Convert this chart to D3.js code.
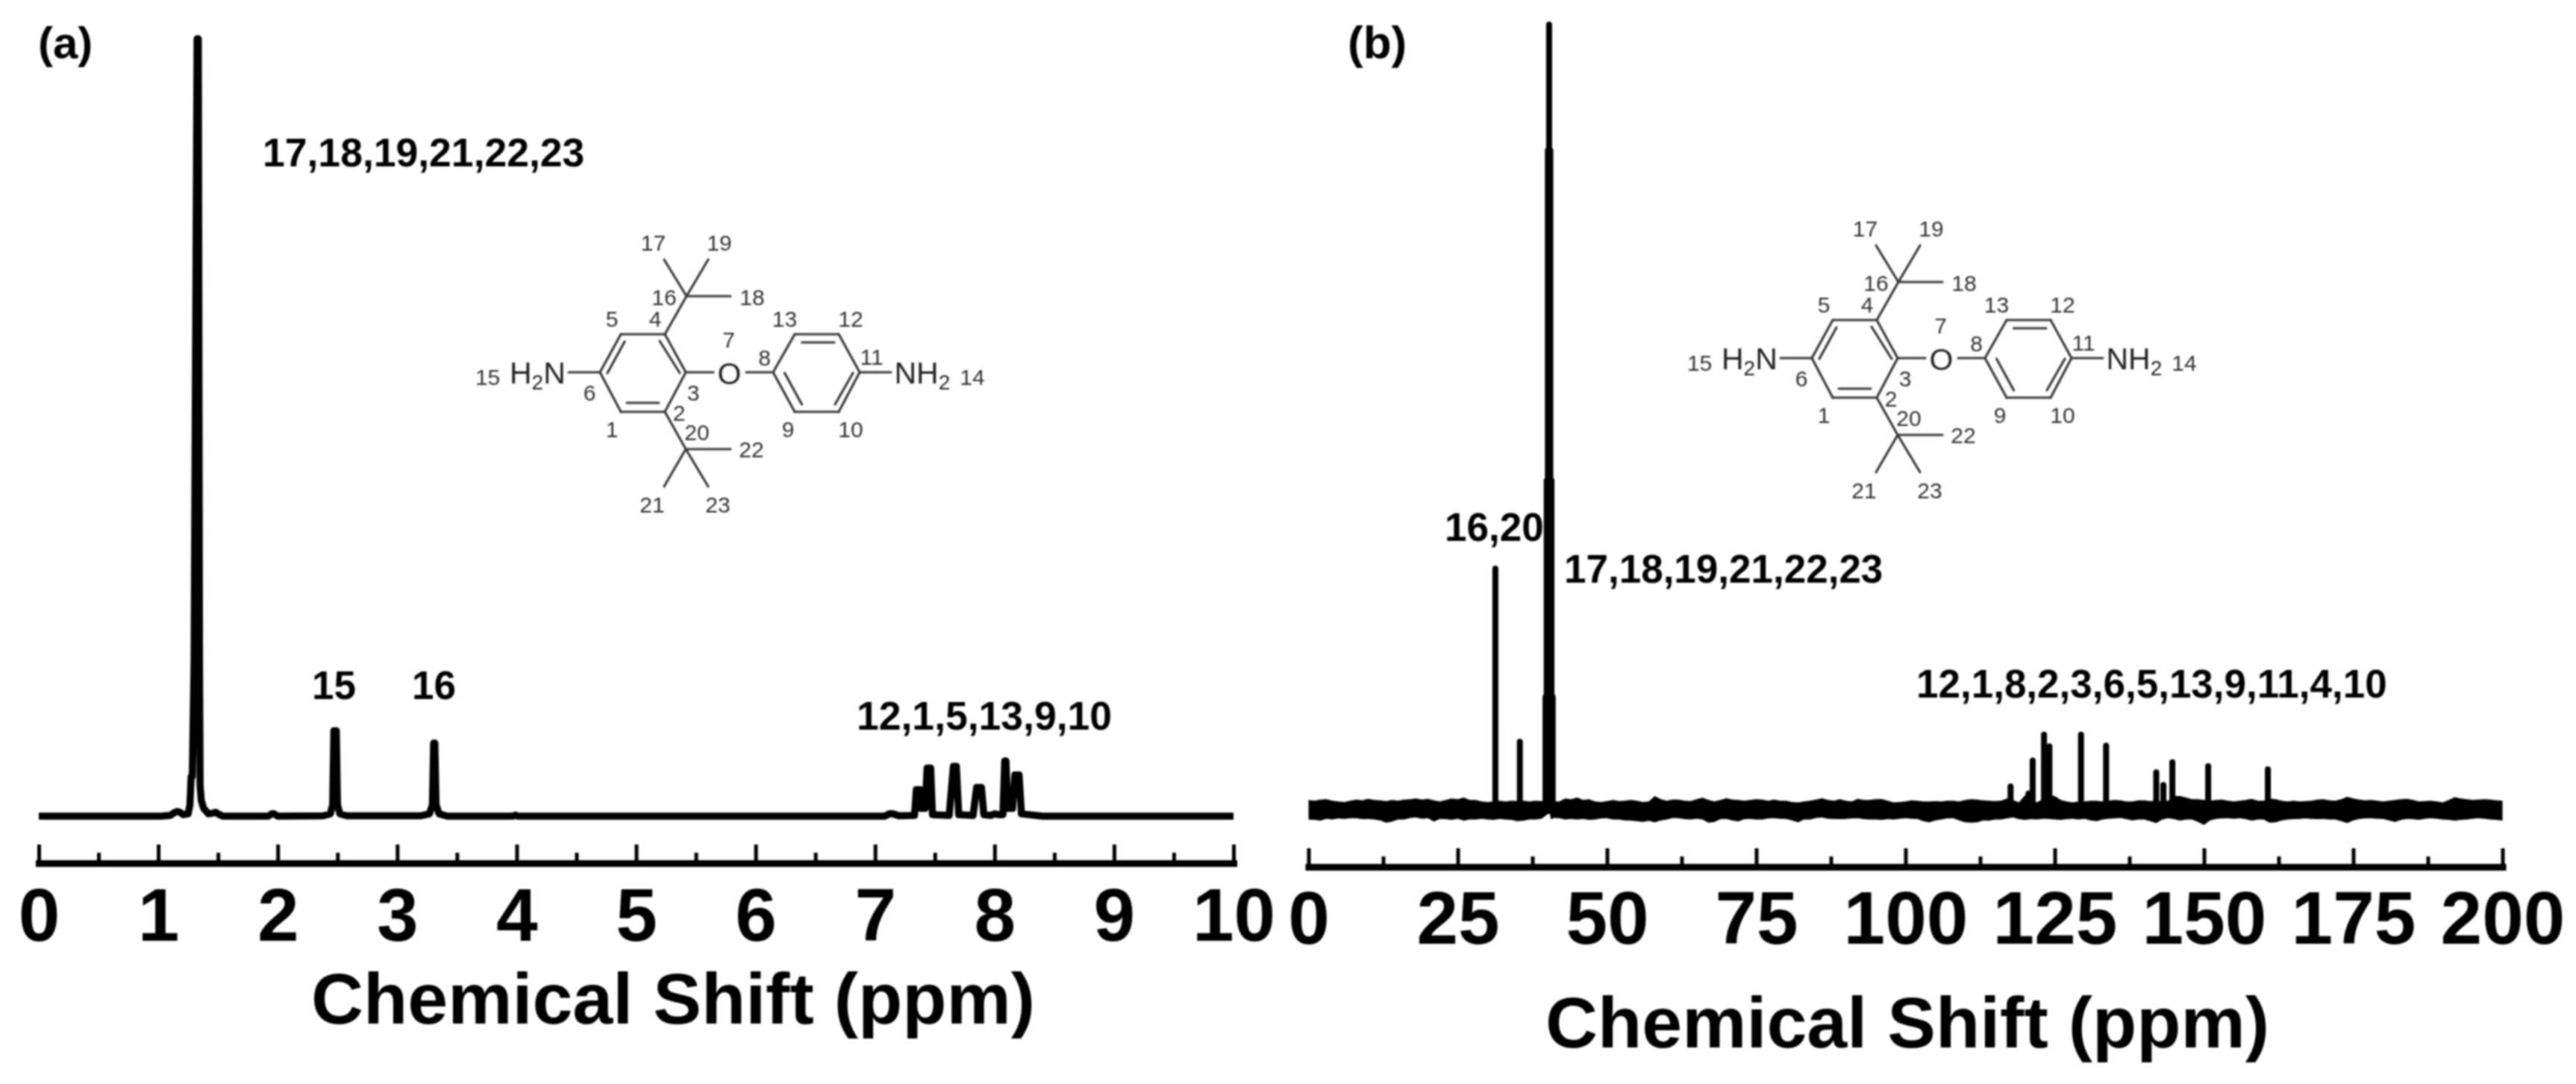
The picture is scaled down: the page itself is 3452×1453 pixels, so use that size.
<!DOCTYPE html>
<html>
<head>
<meta charset="utf-8">
<script src="https://cdn.jsdelivr.net/npm/d3@7"></script>
<style>
html,body{margin:0;padding:0;background:#fff}
svg{display:block}
text{font-family:"Liberation Sans",Arial,sans-serif}
</style>
</head>
<body>
<script>
// ---------- values ----------
const protonTicksMajor = [0,1,2,3,4,5,6,7,8,9,10];
const protonTicksMinor = [0.5,1.5,2.5,3.5,4.5,5.5,6.5,7.5,8.5,9.5];
const carbonTicksMajor = [0,25,50,75,100,125,150,175,200];
const carbonTicksMinor = [12.5,37.5,62.5,87.5,112.5,137.5,162.5,187.5];

// 1H trace: [ppm, relative intensity]
const protonTrace = [
 [0,0],[1.02,0],[1.1,0.1],[1.14,0.5],[1.16,0.6],[1.18,0.5],[1.21,0.2],[1.25,0.3],[1.265,1.5],[1.275,5.1],[1.285,5.1],
 [1.3,20],[1.325,100],[1.335,100],[1.345,20],[1.35,4],[1.36,2],[1.38,1],[1.42,0.3],[1.46,0.4],[1.48,0.5],[1.5,0.3],[1.54,0],
 [1.92,0],[1.95,0.3],[1.97,0.3],[2.0,0],[2.38,0.05],[2.44,0.3],[2.46,1.5],[2.47,11],[2.49,11],[2.5,1.5],[2.52,0.3],[2.58,0.05],
 [3.2,0.05],[3.27,0.3],[3.295,1.5],[3.305,9.4],[3.315,9.4],[3.325,1.5],[3.35,0.3],[3.42,0],
 [3.97,0],[3.99,0.15],[4.01,0],[7.08,0],[7.12,0.3],[7.15,0.3],[7.2,0.05],[7.33,0.1],[7.345,3.4],[7.375,3.4],[7.385,1],[7.4,1],[7.42,1],
 [7.435,6.2],[7.465,6.2],[7.48,0.2],[7.62,0.1],[7.655,6.4],[7.68,6.4],[7.7,0.2],[7.82,0.1],[7.85,3.7],[7.89,3.7],[7.91,0.2],
 [7.97,0.1],[8.0,0.3],[8.03,0.2],[8.07,0.2],[8.085,7.1],[8.095,7.1],[8.11,1],[8.15,1],[8.17,5.3],[8.205,5.3],[8.225,0.3],[8.4,0],[10,0]
];

// 13C sharp lines: [ppm, relative intensity]
const carbonLines = [
 [31.3,30.8],[35.4,8.8],[39.7,14.5],[39.9,42],[40.1,84],[40.3,100],[40.5,84],[40.7,42],[40.9,14.5],
 [117.6,3.1],[120.6,2.2],[121.3,6.4],[123.2,9.7],[124.1,8.2],[129.4,9.7],[133.6,8.3],
 [142,4.9],[143.2,3.3],[144.7,6.2],[150.7,5.7],[160.7,5.3]
];

// 13C noise band envelope, read every 1 ppm from 0 to 200
const noiseUpper = [
 1.4,1.3,1.45,1.5,1.3,1.2,1.14,1.3,1.45,1.35,1.55,1.4,1.36,1.25,1.39,1.3,1.45,1.5,1.6,1.45,
 1.55,1.35,1.2,1.4,1.6,1.5,1.7,1.4,1.39,1.2,1.14,1.2,1.3,1.2,1.3,1.25,1.3,1.2,1.3,1.25,
 1.3,1.2,1.2,1.6,1.5,1.7,1.39,1.5,1.2,1.15,1.26,1.4,1.26,1.3,1.39,1.3,1.14,1.2,1.9,1.5,
 1.3,1.45,1.45,1.3,1.26,1.5,1.68,1.4,1.2,1.4,1.61,1.45,1.39,1.3,1.39,1.5,1.45,1.3,1.45,1.3,
 1.3,1.15,1.08,1.2,1.3,1.45,1.61,1.4,1.3,1.5,1.3,1.2,1.55,1.4,1.39,1.5,1.52,1.3,1.08,1.15,
 1.2,1.35,1.3,1.2,1.2,1.25,1.2,1.3,1.3,1.2,1.39,1.5,1.45,1.35,1.3,1.25,1.3,1.6,1.4,1.1,
 2.0,1.6,1.1,1.5,2.0,1.9,1.4,1.2,1.1,1.2,1.2,1.3,1.3,1.2,1.3,1.4,1.35,1.2,1.2,1.35,
 1.35,1.25,1.3,1.2,1.3,1.9,1.9,1.7,1.5,1.5,1.4,1.3,1.39,1.45,1.3,1.2,1.3,1.4,1.55,1.3,
 1.3,1.6,1.5,1.3,1.2,1.3,1.2,1.25,1.3,1.45,1.5,1.35,1.3,1.5,1.8,1.6,1.45,1.35,1.4,1.3,
 1.2,1.3,1.4,1.5,1.55,1.4,1.2,1.25,1.3,1.2,1.1,1.4,1.75,1.6,1.5,1.4,1.45,1.5,1.45,1.35,1.3
];
const noiseLower = [
 -1.08,-1.15,-1.23,-1.0,-1.08,-0.95,-1.01,-0.92,-0.92,-1.05,-1.01,-1.1,-1.2,-1.5,-1.35,-1.1,-1.08,-0.9,-0.82,-1.0,
 -0.92,-1.35,-1.01,-1.05,-1.14,-1.0,-1.23,-1.1,-1.08,-1.0,-1.08,-1.15,-1.01,-1.1,-1.14,-1.3,-1.23,-1.1,-1.08,-1.0,
 -0.5,-0.9,-0.92,-1.1,-1.01,-1.1,-1.01,-1.15,-1.08,-0.95,-0.92,-1.1,-1.08,-1.2,-1.23,-1.3,-1.39,-1.25,-1.45,-1.2,
 -1.08,-0.9,-0.92,-1.05,-1.08,-1.0,-1.08,-1.5,-1.39,-1.05,-1.01,-1.2,-1.33,-1.05,-1.01,-1.1,-1.08,-0.95,-0.92,-1.0,
 -1.01,-1.2,-1.45,-1.1,-1.08,-0.9,-0.82,-1.0,-1.01,-1.05,-1.01,-0.95,-0.92,-1.05,-1.08,-1.1,-1.14,-1.05,-1.08,-1.0,
 -0.92,-1.0,-1.01,-1.3,-1.45,-1.2,-1.08,-0.95,-0.92,-1.2,-1.45,-1.5,-1.45,-1.2,-1.23,-1.1,-1.08,-0.95,-0.82,-1.05,
 -1.14,-1.05,-1.08,-1.0,-1.01,-1.1,-1.14,-1.05,-1.0,-1.1,-1.0,-1.2,-1.3,-1.1,-1.0,-0.95,-0.9,-1.05,-1.2,-1.1,
 -1.08,-1.3,-1.55,-1.1,-0.92,-1.05,-1.23,-1.1,-1.08,-1.4,-1.77,-1.2,-1.01,-0.95,-0.92,-1.0,-0.92,-1.05,-1.23,-1.1,
 -1.1,-1.5,-1.45,-1.2,-1.08,-1.05,-1.01,-0.95,-1.01,-1.05,-1.01,-1.1,-1.08,-1.3,-1.55,-1.2,-1.01,-0.95,-0.92,-1.0,
 -1.01,-1.2,-1.39,-1.15,-1.01,-1.05,-1.14,-1.0,-0.92,-1.0,-1.08,-1.15,-1.23,-1.15,-1.08,-1.0,-0.92,-1.0,-1.08,-1.15,-1.23
];
const noiseStep = 1;
const solventNotch = [[39.2,-0.9],[39.9,-0.5],[40.2,0.6],[40.6,-1.1]];

// peak labels
const protonLabels = ["17,18,19,21,22,23","15","16","12,1,5,13,9,10"];
const carbonLabels = ["16,20","17,18,19,21,22,23","12,1,8,2,3,6,5,13,9,11,4,10"];
const axisTitle = "Chemical Shift (ppm)";

// ---------- structure drawing (not data): offsets from the ring carbon next to O ----------
const molBonds = [
 [-115,0,-87,-51],[-87,-51,-28,-51],[-28,-51,0,0],[0,0,-28,53],[-28,53,-87,53],[-87,53,-115,0],
 [117,0,146,-51],[146,-51,205,-51],[205,-51,233,0],[233,0,205,53],[205,53,146,53],[146,53,117,0],
 [-115,0,-157,0],[0,0,37,0],[81,0,117,0],[233,0,275,0],
 [-28,-51,1,-102],[1,-102,-29,-151],[1,-102,30,-151],[1,-102,60,-102],
 [-28,53,0,103],[0,103,-29,153],[0,103,30,153],[0,103,60,103],
 [-82,-41,-105,1],[-35,-42,-8,1],[-79,41,-36,41],
 [155.5,-40,199,-40],[132.5,1,155.5,43],[224,1,200,43]
];
const molNumbers = [
 ["17",-43.5,-174],["19",45,-174],["16",-29,-101],["18",89,-101],["5",-99,-72],["4",-41,-72],
 ["13",132.5,-72],["12",221,-72],["7",57.5,-44],["8",105.5,-20],["11",249,-21],["15",-265.4,6],
 ["14",384,6],["6",-129,27],["3",10,27],["2",-9,54],["1",-99,76],["9",137,76],["10",221,76],
 ["20",15,80],["22",88,103],["21",-45,177],["23",43,177]
];

// ---------- drawing ----------
const W = 3452, H = 1453;
const svg = d3.select("body").append("svg").attr("width",W).attr("height",H).attr("viewBox",`0 0 ${W} ${H}`);
svg.append("rect").attr("width",W).attr("height",H).attr("fill","#fff");
const defs = svg.append("defs");
defs.append("filter").attr("id","soft").attr("x","-2%").attr("y","-2%").attr("width","104%").attr("height","104%")
  .append("feGaussianBlur").attr("stdDeviation",0.9);
const root = svg.append("g").attr("filter","url(#soft)");

function drawAxis(x, yLine, yLabel, yTitle, major, minor, titleX){
  const g = root.append("g");
  const tickG = g.append("g").attr("transform",`translate(0,${yLine})`)
    .call(d3.axisTop(x).tickValues(major).tickSize(25).tickSizeOuter(0).tickFormat(""));
  tickG.select(".domain").attr("stroke","#000").attr("stroke-width",9).attr("stroke-linecap","square");
  tickG.selectAll(".tick line").attr("stroke","#000").attr("stroke-width",5);
  const minorG = g.append("g").attr("transform",`translate(0,${yLine})`)
    .call(d3.axisTop(x).tickValues(minor).tickSize(14).tickSizeOuter(0).tickFormat(""));
  minorG.select(".domain").remove();
  minorG.selectAll(".tick line").attr("stroke","#000").attr("stroke-width",5);
  const lab = g.append("g").attr("transform",`translate(0,${yLabel})`)
    .call(d3.axisBottom(x).tickValues(major).tickSize(0).tickPadding(0).tickFormat(d3.format("d")));
  lab.select(".domain").remove();
  lab.selectAll("text").attr("y",0).attr("dy",0).attr("fill","#000")
    .attr("font-size",100).attr("font-weight","bold").attr("text-anchor","middle");
  lab.attr("font-family",null);
  root.append("text").attr("x",titleX).attr("y",yTitle).attr("text-anchor","middle")
    .attr("font-size",97).attr("font-weight","bold").attr("fill","#000").text(axisTitle);
}

function drawMolecule(ox, oy){
  const g = root.append("g").attr("transform",`translate(${ox},${oy})`);
  g.selectAll("line").data(molBonds).join("line")
    .attr("x1",d=>d[0]).attr("y1",d=>d[1]).attr("x2",d=>d[2]).attr("y2",d=>d[3])
    .attr("stroke","#3a3a3a").attr("stroke-width",3.2).attr("stroke-linecap","round");
  g.selectAll("text.num").data(molNumbers).join("text").attr("class","num")
    .attr("x",d=>d[1]).attr("y",d=>d[2]).attr("dy","0.36em").attr("text-anchor","middle")
    .attr("font-size",30).attr("fill","#333").text(d=>d[0]);
  const h2n = g.append("text").attr("x",-236).attr("y",15).attr("font-size",41).attr("fill","#222");
  h2n.append("tspan").text("H");
  h2n.append("tspan").attr("dy",8).attr("font-size",28).text("2");
  h2n.append("tspan").attr("dy",-8).text("N");
  const nh2 = g.append("text").attr("x",279.5).attr("y",15).attr("font-size",41).attr("fill","#222");
  nh2.append("tspan").text("NH");
  nh2.append("tspan").attr("dy",8).attr("font-size",28).text("2");
  g.append("text").attr("x",58.5).attr("y",1).attr("dy","0.36em").attr("text-anchor","middle")
    .attr("font-size",41).attr("fill","#222").text("O");
}

function bold(x,y,t,size){
  root.append("text").attr("x",x).attr("y",y).attr("font-size",size||53)
    .attr("font-weight","bold").attr("fill","#000").text(t);
}

// ---- panel (a) ----
const xA = d3.scaleLinear().domain([0,10]).range([52,1653]);
const yA = d3.scaleLinear().domain([0,100]).range([1094,52]);
root.append("path").datum(protonTrace)
  .attr("fill","none").attr("stroke","#000").attr("stroke-width",9.5)
  .attr("stroke-linejoin","round").attr("stroke-linecap","butt")
  .attr("d",d3.line().x(d=>xA(d[0])).y(d=>yA(d[1])));
drawAxis(xA,1157,1261,1372,protonTicksMajor,protonTicksMinor,902);

// ---- panel (b) ----
const xB = d3.scaleLinear().domain([0,200]).range([1753.5,3353.5]);
const yB = d3.scaleLinear().domain([0,100]).range([1087,33]);
const upperPts = noiseUpper.map((v,i)=>[i*noiseStep,v]);
const lowerPts = noiseLower.map((v,i)=>[i*noiseStep,v]).concat(solventNotch).sort((a,b)=>a[0]-b[0]);
root.append("path").datum(upperPts).attr("fill","#000")
  .attr("d",d3.area().x(d=>xB(d[0])).y0(yB(0)).y1(d=>yB(d[1])));
root.append("path").datum(lowerPts).attr("fill","#000")
  .attr("d",d3.area().x(d=>xB(d[0])).y0(yB(0)).y1(d=>yB(d[1])));
root.append("g").selectAll("line").data(carbonLines).join("line")
  .attr("x1",d=>xB(d[0])).attr("x2",d=>xB(d[0])).attr("y1",yB(0)).attr("y2",d=>yB(d[1]))
  .attr("stroke","#000").attr("stroke-width",8).attr("stroke-linecap","round");
drawAxis(xB,1162,1265,1404,carbonTicksMajor,carbonTicksMinor,2556);

// ---- annotations ----
bold(51,78,"(a)",60);
bold(1806,78,"(b)",62);
bold(352,223,protonLabels[0],53.5);
bold(418,937,protonLabels[1]);
bold(552,937,protonLabels[2]);
bold(1148,978,protonLabels[3],53.5);
bold(1936,725,carbonLabels[0]);
bold(2096,781,carbonLabels[1]);
bold(2568,935,carbonLabels[2]);
drawMolecule(919,499);
drawMolecule(2543,480);
</script>
</body>
</html>
